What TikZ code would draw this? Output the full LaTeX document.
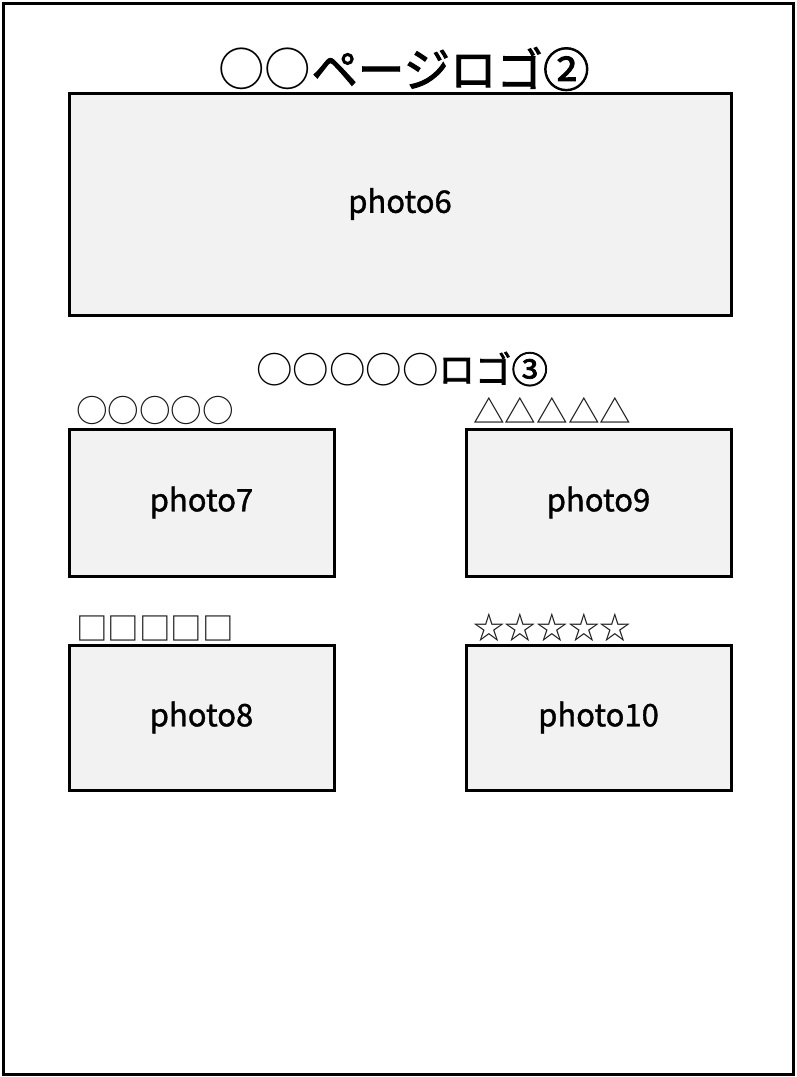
\documentclass[tikz,border=0pt]{standalone}
\usepackage{fontspec}
\newfontfamily\cjk{Noto Sans CJK JP}
\newfontfamily\cjkb{Noto Sans CJK JP}[FakeBold=2]
\newfontfamily\cjkm{Noto Sans CJK JP}[FakeBold=1.2]
\definecolor{boxfill}{HTML}{F2F2F2}
\tikzset{
  photo/.style={draw=black, line width=3pt, fill=boxfill, inner sep=0pt, text=black, font=\cjkm\fontsize{31}{31}\selectfont},
  lab/.style={inner sep=0pt, anchor=west, font=\cjk\fontsize{31.6}{32}\selectfont, text=black!90}
}
\begin{document}
\begin{tikzpicture}[x=1pt,y=-1pt]
\useasboundingbox (0,0) rectangle (796,1077);
\draw[line width=2.5pt] (3.5,3.5) rectangle (793.5,1074.5);
\node[inner sep=0pt, font=\fontsize{46.5}{46.5}\selectfont] (title) at (404,69) {\cjk ○○\cjkb ページロゴ②};
\node[photo, minimum width=662pt, minimum height=222pt] (p6) at (400,204) {photo6};
\node[inner sep=0pt, font=\fontsize{36.5}{36.5}\selectfont] (sub) at (402,369) {\cjk ○○○○○\cjkb ロゴ③};
\node[photo, minimum width=265pt, minimum height=147pt] (p7) at (201.5,502.5) {photo7};
\node[photo, minimum width=265pt, minimum height=147pt] (p9) at (598.5,502.5) {photo9};
\node[photo, minimum width=265pt, minimum height=145pt] (p8) at (201.5,717.5) {photo8};
\node[photo, minimum width=265pt, minimum height=145pt] (p10) at (598.5,717.5) {photo10};
\node[lab] (l7) at (76,410) {○○○○○};
\node[lab] (l9) at (473,410) {△△△△△};
\node[lab] (l8) at (76,628) {□□□□□};
\node[lab] (l10) at (473,628) {☆☆☆☆☆};
\end{tikzpicture}
\end{document}
